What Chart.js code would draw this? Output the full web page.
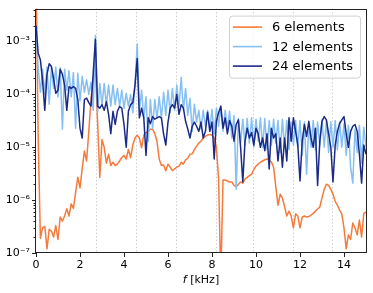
<!DOCTYPE html>
<html>
<head>
<meta charset="utf-8">
<script src="https://cdn.jsdelivr.net/npm/chart.js@4"></script>
<style>
  html, body { margin: 0; padding: 0; background: #fff; }
  canvas { display: block; }
</style>
</head>
<body>
<canvas id="spectrum" width="373" height="293"></canvas>
<script>
// frequency grid in kHz
const freq = [
  0.0, 0.1, 0.2, 0.3, 0.4, 0.5, 0.6, 0.7, 0.8, 0.9,
  1.0, 1.1, 1.2, 1.3, 1.4, 1.5, 1.6, 1.7, 1.8, 1.9,
  2.0, 2.1, 2.2, 2.3, 2.4, 2.5, 2.6, 2.7, 2.8, 2.9,
  3.0, 3.1, 3.2, 3.3, 3.4, 3.5, 3.6, 3.7, 3.8, 3.9,
  4.0, 4.1, 4.2, 4.3, 4.4, 4.5, 4.6, 4.7, 4.8, 4.9,
  5.0, 5.1, 5.2, 5.3, 5.4, 5.5, 5.6, 5.7, 5.8, 5.9,
  6.0, 6.1, 6.2, 6.3, 6.4, 6.5, 6.6, 6.7, 6.8, 6.9,
  7.0, 7.1, 7.2, 7.3, 7.4, 7.5, 7.6, 7.7, 7.8, 7.9,
  8.0, 8.1, 8.2, 8.3, 8.4, 8.5, 8.6, 8.7, 8.8, 8.9,
  9.0, 9.1, 9.2, 9.3, 9.4, 9.5, 9.6, 9.7, 9.8, 9.9,
  10.0, 10.1, 10.2, 10.3, 10.4, 10.5, 10.6, 10.7, 10.8, 10.9,
  11.0, 11.1, 11.2, 11.3, 11.4, 11.5, 11.6, 11.7, 11.8, 11.9,
  12.0, 12.1, 12.2, 12.3, 12.4, 12.5, 12.6, 12.7, 12.8, 12.9,
  13.0, 13.1, 13.2, 13.3, 13.4, 13.5, 13.6, 13.7, 13.8, 13.9,
  14.0, 14.1, 14.2, 14.3, 14.4, 14.5, 14.6, 14.7, 14.8, 14.9,
  15.0
];

const elements6 = [
  2e-2, 1.5e-5, 1.9e-7, 3.0e-7, 3.2e-7, 1.2e-7, 2.8e-7, 2.6e-7, 2.0e-7, 3.3e-7,
  1.8e-7, 4.8e-7, 4.0e-7, 5.0e-7, 6.9e-7, 5.0e-7, 8.5e-7, 7.0e-7, 1.4e-6, 2.7e-6,
  1.7e-6, 4.0e-6, 8.5e-6, 5.5e-6, 2.0e-5, 8.0e-5, 2.0e-4, 3.3e-4, 3.0e-5, 2.7e-6,
  1.4e-5, 1.0e-5, 5.0e-6, 7.4e-6, 4.5e-6, 5.2e-6, 4.5e-6, 4.8e-6, 5.5e-6, 6.4e-6,
  7.0e-6, 6.0e-6, 9.1e-6, 6.4e-6, 1.1e-5, 1.5e-5, 1.7e-5, 1.5e-5, 9.8e-6, 1.7e-5,
  1.9e-5, 2.0e-5, 2.2e-5, 2.2e-5, 1.8e-5, 1.3e-5, 6.0e-6, 4.5e-6, 4.6e-6, 3.6e-6,
  4.8e-6, 4.2e-6, 3.6e-6, 3.9e-6, 4.2e-6, 4.4e-6, 5.2e-6, 4.8e-6, 5.8e-6, 6.2e-6,
  7.4e-6, 7.5e-6, 9.0e-6, 1.05e-5, 1.2e-5, 1.3e-5, 1.5e-5, 1.6e-5, 1.7e-5, 1.75e-5,
  1.7e-5, 1.5e-5, 1.0e-5, 2.5e-6, 3e-8, 2.4e-6, 2.4e-6, 2.3e-6, 2.2e-6, 2.2e-6,
  1.9e-6, 1.8e-6, 2.0e-6, 2.2e-6, 2.1e-6, 2.5e-6, 2.7e-6, 2.9e-6, 3.1e-6, 3.8e-6,
  4.4e-6, 4.8e-6, 5.2e-6, 5.5e-6, 5.8e-6, 6.0e-6, 5.6e-6, 5.3e-6, 4.2e-6, 1.8e-6,
  8.0e-7, 1.3e-6, 1.1e-6, 7.5e-7, 5.0e-7, 6.2e-7, 5.0e-7, 3.0e-7, 5.5e-7, 5.0e-7,
  3.0e-7, 4.8e-7, 5.0e-7, 4.8e-7, 4.9e-7, 5.2e-7, 5.6e-7, 6.2e-7, 6.8e-7, 7.4e-7,
  1.1e-6, 1.6e-6, 2.0e-6, 1.9e-6, 1.6e-6, 1.3e-6, 9.5e-7, 8.0e-7, 6.5e-7, 5.5e-7,
  3.0e-7, 1.2e-7, 2.2e-7, 1.8e-7, 3.7e-7, 3.0e-7, 2.2e-7, 4.2e-7, 2.0e-7, 5.6e-7,
  6.0e-7
];

const elements12 = [
  1.6e-3, 3.2e-4, 1.1e-4, 3.0e-4, 1.0e-4, 3.3e-4, 6.5e-5, 3.3e-4, 1.3e-4, 3.3e-4,
  9.0e-5, 3.2e-4, 2.2e-5, 3.0e-4, 1.2e-4, 2.8e-4, 9.0e-5, 2.6e-4, 2.3e-5, 2.5e-4,
  7.5e-5, 2.2e-4, 1.1e-4, 1.9e-4, 1.0e-4, 1.7e-4, 5.0e-5, 1.3e-3, 4.5e-5, 1.6e-4,
  6.4e-5, 1.6e-4, 6.4e-5, 1.5e-4, 6.0e-5, 1.5e-4, 6.4e-5, 1.3e-4, 6.0e-5, 1.2e-4,
  5.5e-5, 1.05e-4, 6.0e-5, 1.0e-4, 4.5e-5, 1.5e-4, 9.0e-4, 5.0e-5, 1.2e-4, 3.5e-5,
  9.0e-5, 1.3e-5, 8.0e-5, 2.3e-5, 8.0e-5, 3.5e-5, 9.0e-5, 3.5e-5, 1.1e-4, 4.0e-5,
  1.2e-4, 4.5e-5, 1.3e-4, 5.0e-5, 1.5e-4, 6.0e-5, 2.1e-4, 5.0e-5, 1.3e-4, 4.0e-5,
  8.5e-5, 2.0e-5, 6.5e-5, 3.0e-5, 5.0e-5, 2.2e-5, 5.0e-5, 2.5e-5, 5.0e-5, 2.2e-5,
  5.2e-5, 1.8e-5, 5.5e-5, 2.5e-5, 5.8e-5, 2.0e-5, 5.0e-5, 2.2e-5, 4.8e-5, 1.5e-5,
  4.0e-5, 1.6e-6, 3.5e-5, 1.2e-5, 3.4e-5, 1.1e-5, 3.5e-5, 1.2e-5, 3.6e-5, 1.0e-5,
  3.4e-5, 1.3e-5, 3.6e-5, 1.0e-5, 3.5e-5, 9.0e-6, 3.2e-5, 1.1e-5, 3.4e-5, 1.2e-5,
  3.2e-5, 8.0e-6, 3.4e-5, 1.0e-5, 3.2e-5, 9.0e-6, 3.0e-5, 1.1e-5, 3.2e-5, 1.0e-5,
  3.2e-5, 7.0e-6, 3.0e-5, 3.1e-6, 2.8e-5, 1.0e-5, 3.2e-5, 9.0e-6, 3.0e-5, 1.1e-5,
  3.4e-5, 1.0e-5, 3.2e-5, 8.0e-6, 3.0e-5, 1.0e-5, 3.2e-5, 9.0e-6, 3.0e-5, 1.0e-5,
  2.8e-5, 7.0e-6, 2.6e-5, 4.2e-6, 2.1e-6, 2.2e-5, 8.0e-6, 2.6e-5, 5.0e-6, 2.4e-5,
  1.0e-5
];

const elements24 = [
  2.0e-3, 6.0e-4, 4.5e-4, 1.8e-4, 5.0e-5, 2.4e-4, 3.8e-4, 3.4e-4, 2.0e-4, 1.05e-4,
  1.2e-4, 3.0e-4, 2.4e-4, 1.5e-4, 5.0e-5, 1.4e-4, 1.3e-4, 1.4e-4, 1.3e-4, 8.0e-5,
  2.3e-5, 1.5e-5, 8.0e-5, 8.5e-5, 7.0e-5, 6.0e-5, 2.5e-4, 1.1e-3, 6.0e-5, 5.5e-5,
  6.4e-5, 5.0e-5, 7.3e-5, 4.2e-5, 1.8e-5, 4.8e-5, 2.7e-5, 4.8e-5, 5.9e-5, 5.5e-5,
  2.7e-5, 1.0e-5, 4.8e-5, 6.4e-5, 7.0e-5, 1.5e-4, 4.8e-4, 3.6e-5, 5.5e-5, 3.6e-5,
  7.0e-6, 3.6e-5, 2.8e-5, 3.8e-5, 3.4e-5, 3.6e-5, 3.8e-5, 3.6e-5, 1.8e-5, 1.1e-5,
  3.0e-5, 5.5e-5, 6.4e-5, 5.5e-5, 1.0e-4, 4.2e-5, 6.4e-5, 5.5e-5, 3.1e-5, 2.2e-5,
  1.5e-5, 2.5e-5, 3.0e-5, 2.5e-5, 2.0e-5, 3.0e-5, 1.5e-5, 2.0e-5, 4.6e-5, 2.0e-5,
  3.0e-5, 6.0e-6, 3.1e-5, 4.5e-5, 6.0e-5, 2.3e-5, 3.6e-5, 1.8e-5, 3.2e-5, 2.5e-5,
  1.3e-5, 2.7e-5, 3.3e-5, 1.0e-5, 2.2e-6, 1.3e-5, 2.3e-5, 1.5e-5, 1.9e-5, 1.1e-5,
  2.3e-5, 1.8e-5, 1.0e-5, 1.5e-5, 8.6e-6, 1.8e-5, 3.9e-6, 2.3e-5, 1.5e-5, 1.8e-5,
  5.5e-6, 1.5e-5, 4.2e-6, 1.5e-5, 5.5e-6, 3.6e-5, 1.3e-5, 3.6e-5, 2.0e-5, 1.1e-5,
  2.3e-6, 1.3e-5, 2.7e-5, 1.6e-5, 3.1e-5, 1.5e-5, 1.0e-5, 2.3e-5, 1.9e-6, 1.3e-5,
  3.1e-5, 3.8e-5, 3.3e-5, 1.8e-5, 1.0e-5, 2.2e-6, 1.1e-5, 2.0e-5, 2.8e-5, 3.3e-5,
  3.8e-5, 1.8e-5, 1.0e-5, 2.0e-5, 2.5e-5, 2.7e-5, 2.0e-5, 7.4e-6, 2.1e-6, 1.1e-5,
  7.4e-6
];

const seriesLabels = ['6 elements', '12 elements', '24 elements'];
const seriesColors = ['#f57a3c', '#86bff2', '#1b2a86'];

const xTicks = [0, 2, 4, 6, 8, 10, 12, 14];
const yTicks = [1e-7, 1e-6, 1e-5, 1e-4, 1e-3];
const yTickLabels = ['10⁻⁷', '10⁻⁶', '10⁻⁵', '10⁻⁴', '10⁻³'];

// dotted vertical markers (kHz)
const markers = [2.71, 4.56, 6.38, 8.17, 9.88, 11.67, 13.44];

const FONT = '"DejaVu Sans", sans-serif';

const toPoints = vals => freq.map((f, i) => ({ x: f, y: vals[i] }));

const decorations = {
    id: 'decorations',
    beforeDatasetsDraw(chart) {
        const { ctx, chartArea: a, scales: { x } } = chart;
        ctx.save();
        ctx.strokeStyle = '#c4c4c4';
        ctx.lineWidth = 0.8;
        ctx.setLineDash([1.5, 2]);
        markers.forEach(f => {
            const px = Math.round(x.getPixelForValue(f)) + 0.5;
            ctx.beginPath();
            ctx.moveTo(px, a.top);
            ctx.lineTo(px, a.bottom);
            ctx.stroke();
        });
        ctx.restore();
    },
    afterDatasetsDraw(chart) {
        const { ctx, chartArea: a, scales: { y } } = chart;
        ctx.save();
        ctx.strokeStyle = '#222';
        ctx.lineWidth = 1;
        // minor ticks on the log axis
        for (let d = -7; d <= -3; d++) {
            for (let m = 2; m <= 9; m++) {
                const v = m * Math.pow(10, d);
                if (v > y.max) continue;
                const py = Math.round(y.getPixelForValue(v)) + 0.5;
                ctx.beginPath();
                ctx.moveTo(a.left - 2.5, py);
                ctx.lineTo(a.left, py);
                ctx.stroke();
            }
        }
        // box around the axes
        ctx.strokeRect(Math.round(a.left) - 0.5, Math.round(a.top) + 0.5,
            Math.round(a.right - a.left) + 1, Math.round(a.bottom - a.top) - 1);
        ctx.restore();
    },
    afterDraw(chart) {
        const { ctx, chartArea: a } = chart;
        ctx.save();

        // legend
        ctx.font = '13px ' + FONT;
        const textW = Math.max(...seriesLabels.map(t => ctx.measureText(t).width));
        const bw = 4 + 29 + 10 + textW + 7;
        const bx = a.right - 6 - bw;
        const by = a.top + 7;
        const bh = 62;
        ctx.beginPath();
        ctx.roundRect(bx + 0.5, by + 0.5, bw, bh, 3);
        ctx.fillStyle = 'rgba(255,255,255,0.8)';
        ctx.fill();
        ctx.strokeStyle = '#d0d0d0';
        ctx.lineWidth = 1;
        ctx.stroke();
        ctx.textBaseline = 'middle';
        ctx.textAlign = 'left';
        seriesLabels.forEach((label, i) => {
            const ly = by + 11.5 + i * 19.5;
            ctx.strokeStyle = seriesColors[i];
            ctx.lineWidth = 1.6;
            ctx.beginPath();
            ctx.moveTo(bx + 4, ly);
            ctx.lineTo(bx + 33, ly);
            ctx.stroke();
            ctx.fillStyle = '#000';
            ctx.fillText(label, bx + 43, ly + 1);
        });

        // x axis title: italic f followed by unit
        const cx = (a.left + a.right) / 2;
        const ty = 280;
        ctx.font = 'italic 11px ' + FONT;
        const fw = ctx.measureText('f').width;
        ctx.font = '11px ' + FONT;
        const rest = ' [kHz]';
        const rw = ctx.measureText(rest).width;
        const start = cx - (fw + rw) / 2;
        ctx.fillStyle = '#000';
        ctx.font = 'italic 11px ' + FONT;
        ctx.fillText('f', start, ty);
        ctx.font = '11px ' + FONT;
        ctx.fillText(rest, start + fw, ty);
        ctx.restore();
    }
};

new Chart(document.getElementById('spectrum'), {
    type: 'line',
    data: {
        datasets: [elements6, elements12, elements24].map((vals, i) => ({
            label: seriesLabels[i],
            data: toPoints(vals),
            borderColor: seriesColors[i],
            borderWidth: 1.5,
            pointRadius: 0,
            tension: 0,
            fill: false,
            borderJoinStyle: 'round',
            order: 3 - i
        }))
    },
    options: {
        responsive: false,
        animation: false,
        events: [],
        layout: { padding: { top: 6, right: 7, bottom: 0, left: 0 } },
        plugins: {
            legend: { display: false },
            tooltip: { enabled: false }
        },
        scales: {
            x: {
                type: 'linear',
                min: 0,
                max: 15,
                afterBuildTicks: s => { s.ticks = xTicks.map(v => ({ value: v })); },
                afterFit: s => { s.height = 40; },
                grid: { drawOnChartArea: false, drawTicks: true, tickLength: 4, color: '#222' },
                border: { display: false },
                ticks: {
                    color: '#000',
                    padding: 2,
                    maxRotation: 0,
                    autoSkip: false,
                    font: { family: FONT, size: 11 }
                }
            },
            y: {
                type: 'logarithmic',
                min: 1e-7,
                max: 4.2e-3,
                afterBuildTicks: s => { s.ticks = yTicks.map(v => ({ value: v })); },
                afterFit: s => { s.width = 36; },
                grid: { drawOnChartArea: false, drawTicks: true, tickLength: 4, color: '#222' },
                border: { display: false },
                ticks: {
                    color: '#000',
                    padding: 2,
                    autoSkip: false,
                    font: { family: FONT, size: 11 },
                    callback: v => {
                        const i = yTicks.findIndex(t => Math.abs(Math.log10(t) - Math.log10(v)) < 1e-6);
                        return i >= 0 ? yTickLabels[i] : '';
                    }
                }
            }
        }
    },
    plugins: [decorations]
});
</script>
</body>
</html>
